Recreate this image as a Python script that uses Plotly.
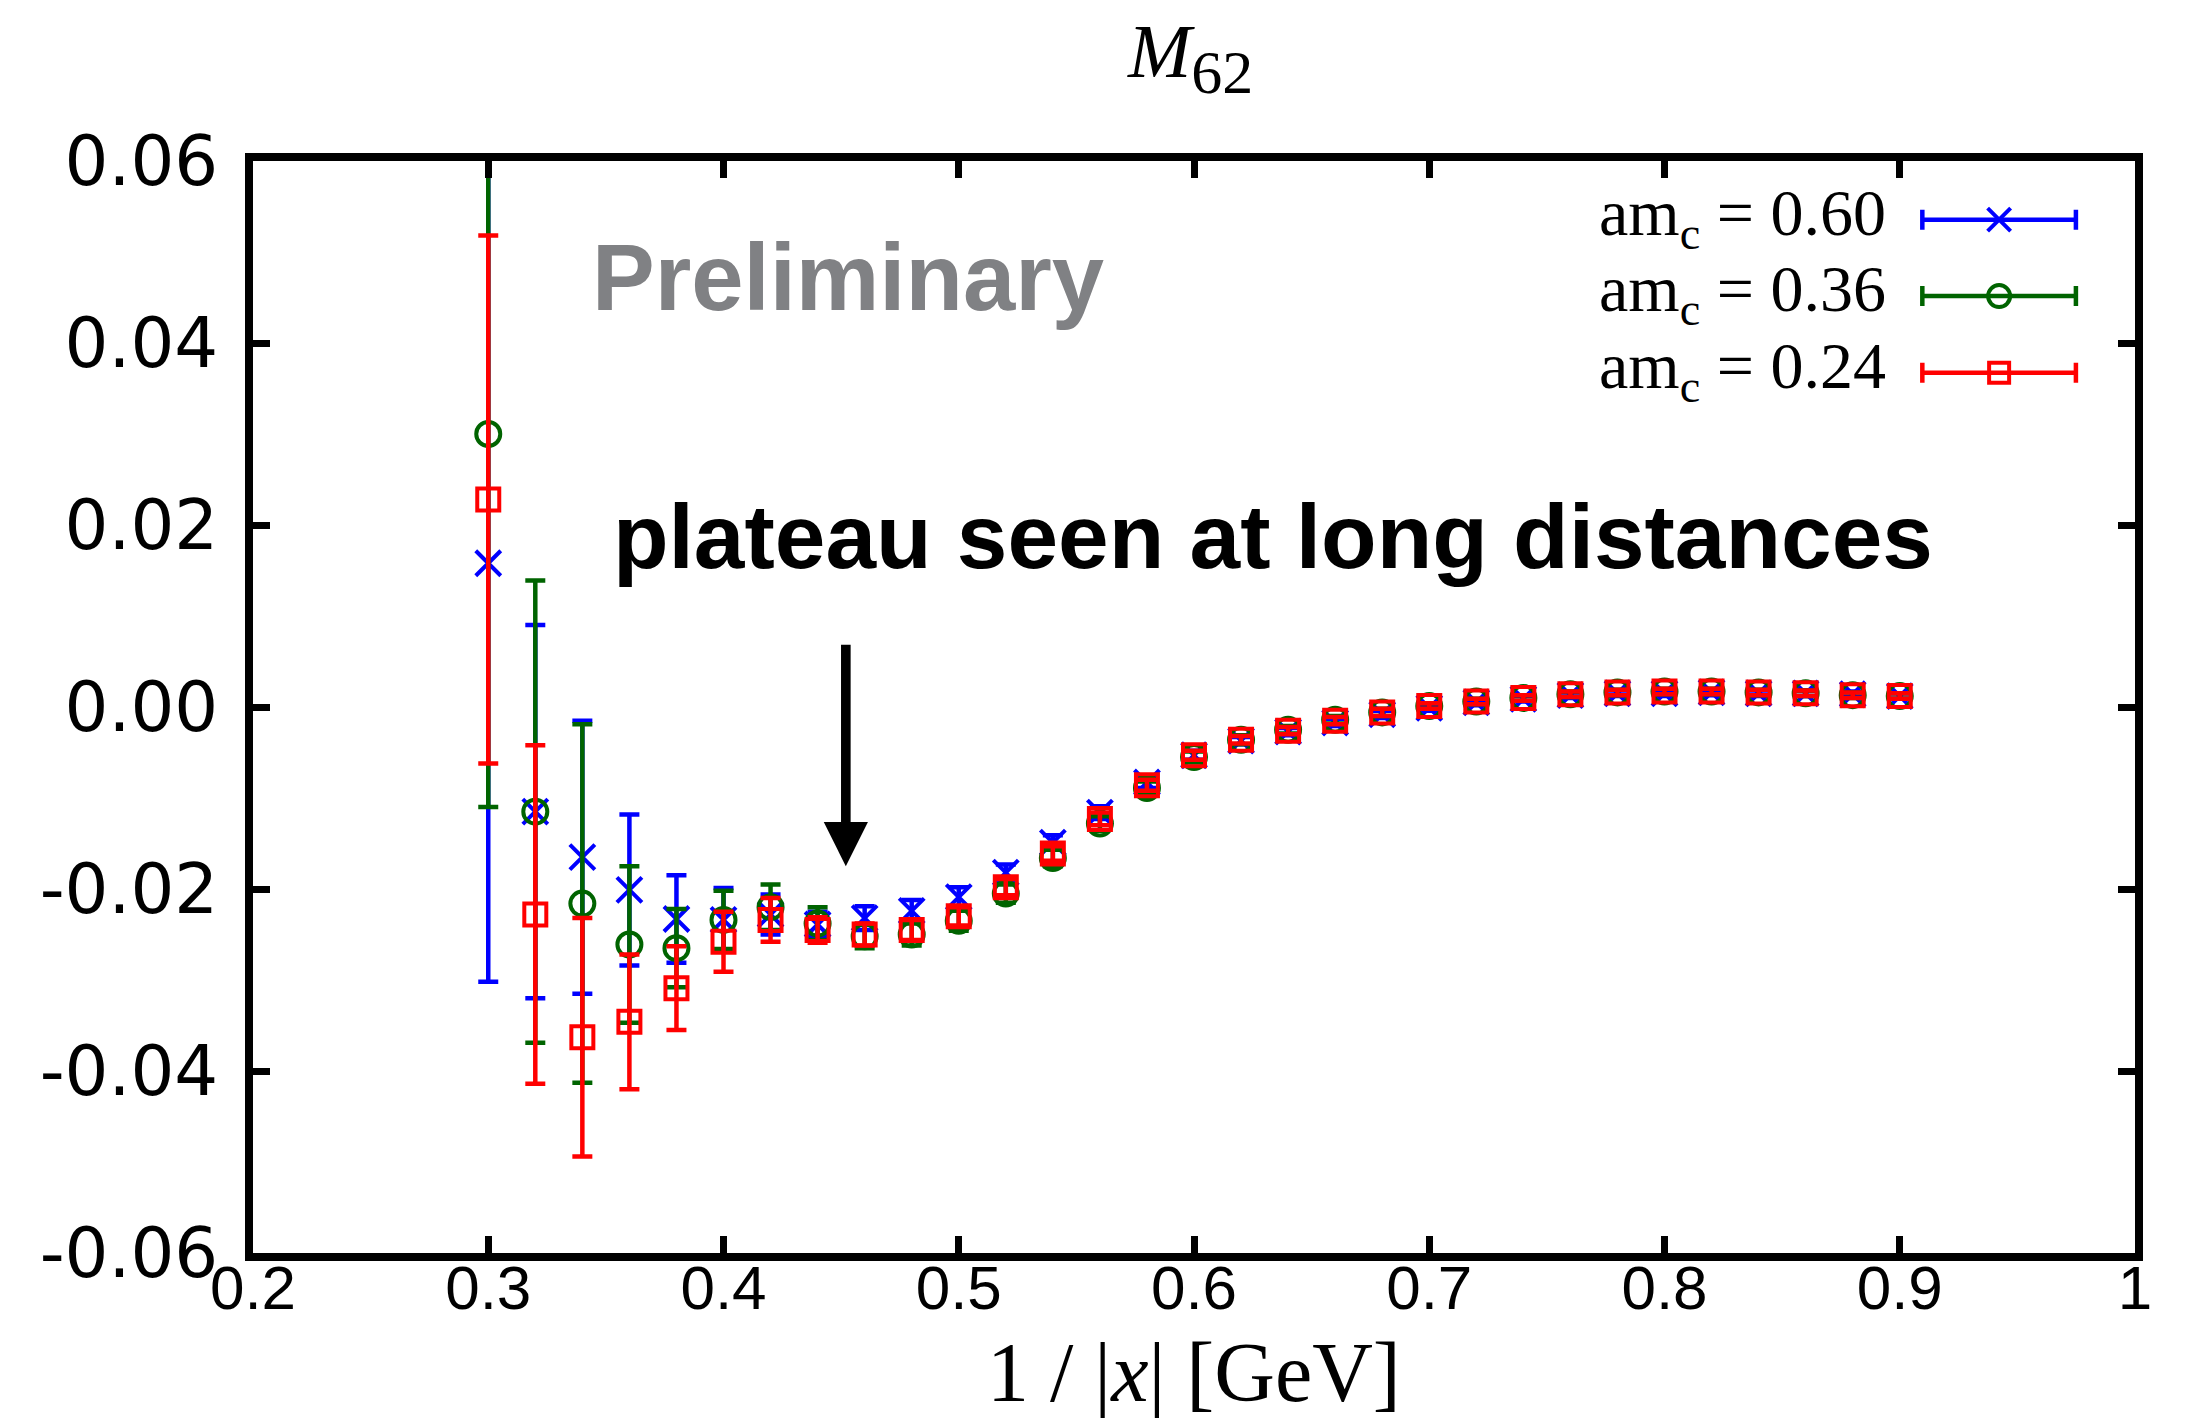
import plotly.graph_objects as go

# ---------------- data ----------------
x_vals = [0.30, 0.32, 0.34, 0.36, 0.38, 0.40, 0.42, 0.44, 0.46, 0.48, 0.50,
          0.52, 0.54, 0.56, 0.58, 0.60, 0.62, 0.64, 0.66, 0.68, 0.70,
          0.72, 0.74, 0.76, 0.78, 0.80, 0.82, 0.84, 0.86, 0.88, 0.90]

y_060 = [0.0158, -0.0115, -0.0165, -0.0201, -0.0233, -0.0234, -0.0228, -0.0239, -0.0232, -0.0224, -0.0209,
         -0.0182, -0.0149, -0.0116, -0.0083, -0.0053, -0.0037, -0.0027, -0.0017, -0.0008, -0.0001,
         0.0005, 0.0009, 0.0013, 0.0015, 0.0015, 0.0016, 0.0015, 0.0015, 0.0014, 0.0012]
e_060 = [0.0460, 0.0205, 0.0150, 0.0083, 0.0048, 0.0035, 0.0022, 0.0014, 0.0013, 0.0012, 0.0011,
         0.0009, 0.0008, 0.0007, 0.0006, 0.0005, 0.0004, 0.0004, 0.0004, 0.0004, 0.0003,
         0.0003, 0.0003, 0.0003, 0.0003, 0.0003, 0.0003, 0.0003, 0.0003, 0.0003, 0.0003]

y_036 = [0.0300, -0.0115, -0.0216, -0.0261, -0.0265, -0.0234, -0.0220, -0.0238, -0.0252, -0.0250, -0.0235,
         -0.0205, -0.0166, -0.0128, -0.0089, -0.0055, -0.0036, -0.0025, -0.0014, -0.0006, 0.0001,
         0.0006, 0.0010, 0.0014, 0.0016, 0.0017, 0.0017, 0.0016, 0.0015, 0.0013, 0.0012]
e_036 = [0.0410, 0.0254, 0.0197, 0.0086, 0.0043, 0.0032, 0.0025, 0.0018, 0.0013, 0.0012, 0.0011,
         0.0010, 0.0009, 0.0008, 0.0007, 0.0006, 0.0005, 0.0004, 0.0004, 0.0004, 0.0003,
         0.0003, 0.0003, 0.0003, 0.0003, 0.0003, 0.0003, 0.0003, 0.0003, 0.0003, 0.0003]

y_024 = [0.0228, -0.0228, -0.0363, -0.0346, -0.0309, -0.0258, -0.0234, -0.0245, -0.0250, -0.0245, -0.0230,
         -0.0198, -0.0161, -0.0123, -0.0086, -0.0053, -0.0036, -0.0026, -0.0015, -0.0006, 0.0001,
         0.0006, 0.0010, 0.0014, 0.0016, 0.0017, 0.0017, 0.0016, 0.0015, 0.0013, 0.0012]
e_024 = [0.0290, 0.0186, 0.0131, 0.0074, 0.0046, 0.0033, 0.0024, 0.0014, 0.0012, 0.0011, 0.0010,
         0.0009, 0.0008, 0.0007, 0.0006, 0.0005, 0.0004, 0.0004, 0.0004, 0.0004, 0.0003,
         0.0003, 0.0003, 0.0003, 0.0003, 0.0003, 0.0003, 0.0003, 0.0003, 0.0003, 0.0003]

series_labels = ["am<sub>c</sub> = 0.60", "am<sub>c</sub> = 0.36", "am<sub>c</sub> = 0.24"]
series_colors = ["#0000ff", "#006400", "#ff0000"]
series_symbols = ["x-thin-open", "circle-open", "square-open"]
series_sizes = [25, 24, 22]

x_ticks = [0.2, 0.3, 0.4, 0.5, 0.6, 0.7, 0.8, 0.9, 1.0]
x_ticktext = ["0.2", "0.3", "0.4", "0.5", "0.6", "0.7", "0.8", "0.9", "1"]
y_ticks = [-0.06, -0.04, -0.02, 0.00, 0.02, 0.04, 0.06]
y_ticktext = ["-0.06", "-0.04", "-0.02", "0.00", "0.02", "0.04", "0.06"]

arrow_x = 0.452
arrow_top = 0.0070
arrow_tip = -0.0175

# legend key placement (paper fractions)
leg_key_x = 0.9278
leg_key_half = 0.0408
leg_rows = [0.9463, 0.8763, 0.8062]
leg_text_x = 0.8687

# ---------------- figure ----------------
fig = go.Figure()
ys = [y_060, y_036, y_024]
es = [e_060, e_036, e_024]
for i in range(3):
    fig.add_trace(go.Scatter(
        x=x_vals, y=ys[i], mode="markers", showlegend=False,
        marker=dict(symbol=series_symbols[i], size=series_sizes[i],
                    color=series_colors[i],
                    line=dict(color=series_colors[i], width=4)),
        error_y=dict(type="data", array=es[i], visible=True,
                     color=series_colors[i], thickness=4.5, width=10),
        cliponaxis=True,
    ))

# custom legend keys (line with caps + marker), drawn on an overlay axis
for i in range(3):
    fig.add_trace(go.Scatter(
        x=[leg_key_x], y=[leg_rows[i]], xaxis="x2", yaxis="y2",
        mode="markers", showlegend=False, hoverinfo="skip",
        marker=dict(symbol=series_symbols[i], size=series_sizes[i] - 2,
                    color=series_colors[i],
                    line=dict(color=series_colors[i], width=4)),
        error_x=dict(type="data", array=[leg_key_half], visible=True,
                     color=series_colors[i], thickness=4.5, width=10),
    ))
    fig.add_annotation(
        x=leg_text_x, y=leg_rows[i] + 0.002, xref="paper", yref="paper",
        text=series_labels[i], showarrow=False, xanchor="right", yanchor="middle",
        font=dict(family="Liberation Serif", size=66, color="black"),
    )

axis_common = dict(
    showline=True, linecolor="black", linewidth=8, mirror="ticks",
    ticks="inside", ticklen=17, tickwidth=7, tickcolor="black",
    showgrid=False, zeroline=False,
)

fig.update_layout(
    width=2196, height=1418,
    margin=dict(l=253, r=61, t=161, b=165),
    paper_bgcolor="white", plot_bgcolor="white",
    xaxis=dict(range=[0.2, 1.0], tickvals=x_ticks, ticktext=x_ticktext,
               tickfont=dict(family="Liberation Sans", size=62, color="black"),
               ticklabelstandoff=-26,
               **axis_common),
    yaxis=dict(range=[-0.06, 0.06], tickvals=y_ticks, ticktext=y_ticktext,
               tickfont=dict(family="DejaVu Sans", size=69, color="black"),
               ticklabelstandoff=13,
               **axis_common),
    xaxis2=dict(range=[0, 1], overlaying="x", visible=False, fixedrange=True),
    yaxis2=dict(range=[0, 1], overlaying="y", visible=False, fixedrange=True),
)

# title
fig.add_annotation(x=0.498, y=1.095, xref="paper", yref="paper",
                   text="<i>M</i><sub><span style=\"font-size:62px\">62</span></sub>",
                   showarrow=False, xanchor="center", yanchor="middle",
                   font=dict(family="Liberation Serif", size=76, color="black"))
# x axis title
fig.add_annotation(x=0.5, y=-0.109, xref="paper", yref="paper",
                   text="1 / |<i>x</i>| [GeV]", showarrow=False,
                   xanchor="center", yanchor="middle",
                   font=dict(family="Liberation Serif", size=84, color="black"))
# Preliminary
fig.add_annotation(x=0.179, y=0.893, xref="paper", yref="paper",
                   text="<b>Preliminary</b>", showarrow=False,
                   xanchor="left", yanchor="middle",
                   font=dict(family="Liberation Sans", size=94, color="#808184"))
# plateau text
fig.add_annotation(x=0.190, y=0.656, xref="paper", yref="paper",
                   text="<b>plateau seen at long distances</b>", showarrow=False,
                   xanchor="left", yanchor="middle",
                   font=dict(family="Liberation Sans", size=91, color="black"))
# arrow
fig.add_annotation(x=arrow_x, y=arrow_tip, ax=arrow_x, ay=arrow_top,
                   xref="x", yref="y", axref="x", ayref="y",
                   text="", showarrow=True, arrowhead=2, arrowsize=0.92,
                   arrowwidth=9.6, arrowcolor="black")

fig.write_html("out.html")
